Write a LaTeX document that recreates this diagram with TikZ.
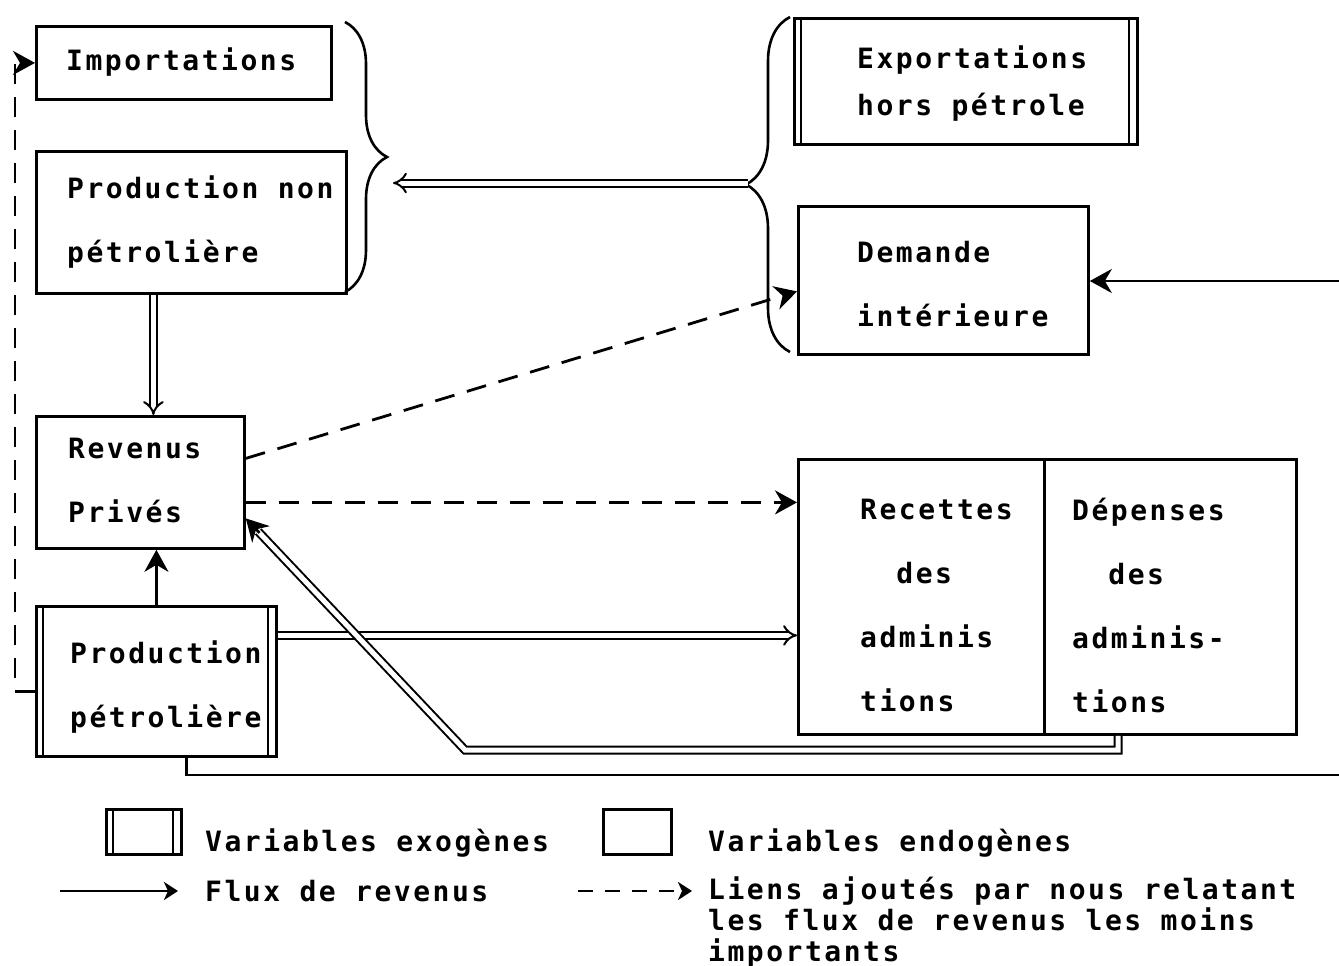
\documentclass[tikz,border=0pt]{standalone}
\usepackage{fontspec}
\setmonofont{DejaVu Sans Mono}[LetterSpace=9]
\usetikzlibrary{arrows.meta, decorations.pathreplacing, positioning, calc}

\tikzset{
  box/.style={draw, line width=2.8pt, inner sep=0pt, anchor=north west},
  exo/.style={box, path picture={
      \draw[line width=2pt] ([xshift=7pt]path picture bounding box.north west) -- ([xshift=7pt]path picture bounding box.south west);
      \draw[line width=2pt] ([xshift=-8pt]path picture bounding box.north east) -- ([xshift=-8pt]path picture bounding box.south east);}},
  txt/.style={anchor=west, align=left, inner sep=0pt, font=\ttfamily\bfseries\fontsize{28}{64}\selectfont},
  flow/.style={line width=2.6pt, -{Stealth[length=22pt, width=24pt, inset=7pt]}},
  dflow/.style={line width=2pt, double, double distance=5pt, -{Implies[scale=1.4]}},
  dashlink/.style={line width=2.8pt, dash pattern=on 20pt off 13pt, -{Stealth[length=22pt, width=24pt, inset=7pt]}},
  accol/.style={line width=2.6pt, decorate, decoration={brace, amplitude=#1}},
}

\begin{document}
\begin{tikzpicture}[x=1pt, y=-1pt] % y vers le bas, 1 unite = 1 pixel
    \useasboundingbox (0,0) rectangle (1339,966);
    % cadres
    \node[box, minimum width=295, minimum height=73] (imp) at (35,25) {};
    \node[box, minimum width=310, minimum height=142] (pnp) at (35,150) {};
    \node[exo, minimum width=343, minimum height=126] (exp) at (793,17) {};
    \node[box, minimum width=290, minimum height=148] (dem) at (797,205) {};
    \node[box, minimum width=208, minimum height=132] (rev) at (35,415) {};
    \node[exo, minimum width=240, minimum height=150] (pp) at (35,605) {};
    \node[box, minimum width=246, minimum height=275] (rec) at (797,458) {};
    \node[box, minimum width=252, minimum height=275] (dep) at (1043,458) {};
    % textes des cadres
    \node[txt] (t-imp) at (66,62) {Importations};
    \node[txt] (t-pnp) at (67,222) {Production non\\pétrolière};
    \node[txt, font=\ttfamily\bfseries\fontsize{28}{47}\selectfont] (t-exp) at (857,84) {Exportations\\hors pétrole};
    \node[txt] (t-dem) at (857,284) {Demande\\intérieure};
    \node[txt] (t-rev) at (68,480) {Revenus\\Privés};
    \node[txt] (t-pp) at (70,687) {Production\\pétrolière};
    \node[txt] (t-rec) at (860,605) {Recettes\\\phantom{Re}des\\adminis\\tions};
    \node[txt] (t-dep) at (1072,605) {Dépenses\\\phantom{Dé}des\\adminis-\\tions};
    % accolades
    \draw[accol=42pt] (345,22) -- (345,292);
    \draw[accol=44pt] (790,352) -- (790,17);
    \coordinate (tipL) at (393,183);
    \coordinate (tipR) at (748,183);
    \coordinate (outT) at (1339,281);
    \coordinate (outB) at (1339,775);
    \coordinate (coin) at (465,750);
    % flux
    \draw[dflow] (tipR) -- (tipL);
    \draw[dflow] ([xshift=13pt]rev.north |- pnp.south) -- ([xshift=13pt]rev.north);
    \draw[flow] (pp.north) -- (pp.north |- rev.south);
    \draw[dflow] ([yshift=46pt]pp.east) -- ([yshift=46pt]pp.east -| rec.west);
    \draw[line width=2pt, double, double distance=5pt]
        ([xshift=75pt]dep.south west) |- (coin) -- ($([yshift=-36pt]rev.east)!18pt!(coin)$);
    \draw[flow] ($([yshift=-36pt]rev.east)!20pt!(coin)$) -- ([yshift=-36pt]rev.east);
    \draw[line width=2.6pt] ([xshift=30pt]pp.south) |- (outB);
    \draw[flow] (outT) -- (outT -| dem.east);
    % liens ajoutes
    \draw[dashlink] ([yshift=24pt]rev.east) -- ([yshift=-11pt]dem.west);
    \draw[dashlink] ([yshift=-20pt]rev.east) -- ([yshift=-20pt]rev.east -| rec.west);
    \draw[dashlink] ([yshift=-10pt]pp.west) -- ++(-20,0) |- (imp.west);
    % legende
    \node[exo, minimum width=75, minimum height=45] (lgx) at (105,808) {};
    \node[box, minimum width=68, minimum height=45] (lgn) at (602,808) {};
    \node[txt] (t-lgx) at (205,843) {Variables exogènes};
    \node[txt] (t-lgn) at (708,843) {Variables endogènes};
    \node[txt] (t-flux) at (205,891) {Flux de revenus};
    \node[txt, font=\ttfamily\bfseries\fontsize{28}{31}\selectfont] (t-liens) at (708,922)
        {Liens ajoutés par nous relatant\\les flux de revenus les moins\\importants};
    \coordinate (la1) at (60,891);
    \coordinate (la2) at (178,891);
    \coordinate (lb1) at (578,891);
    \coordinate (lb2) at (692,891);
    \draw[line width=2.6pt, -{Stealth[length=14pt, width=18pt, inset=4pt]}] (la1) -- (la2);
    \draw[line width=2.8pt, dash pattern=on 15pt off 12pt, -{Stealth[length=14pt, width=18pt, inset=4pt]}] (lb1) -- (lb2);
\end{tikzpicture}
\end{document}
